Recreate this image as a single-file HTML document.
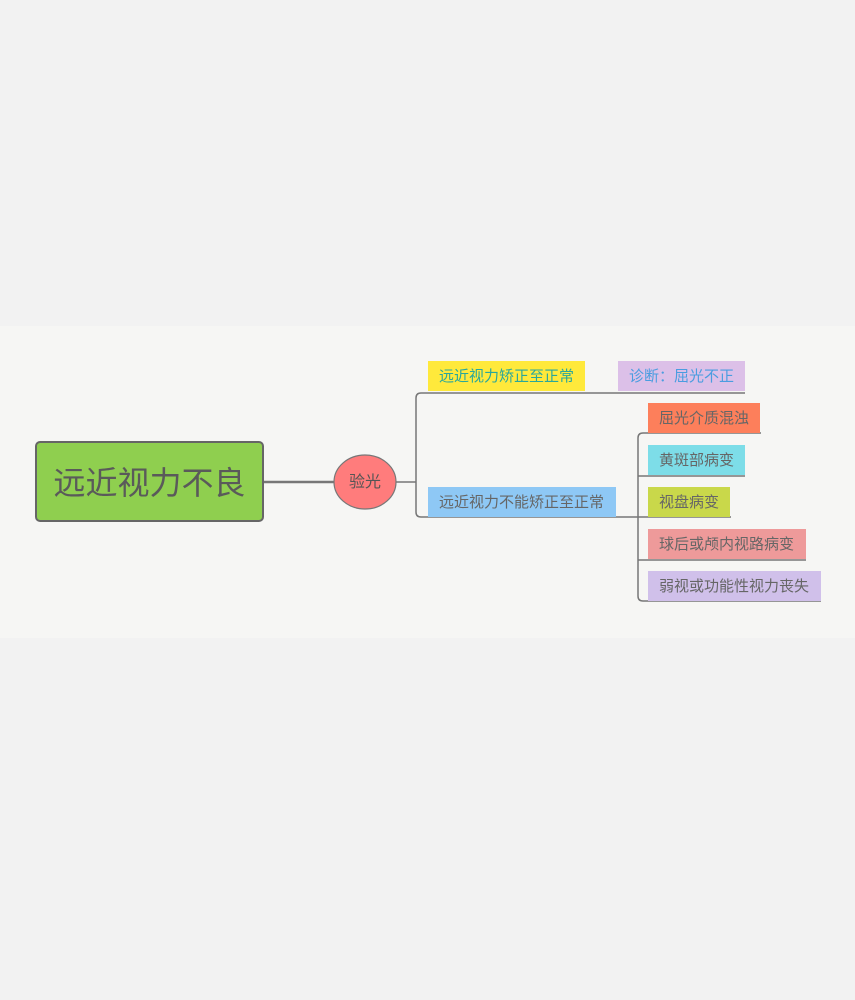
<!DOCTYPE html>
<html><head><meta charset="utf-8"><style>
*{margin:0;padding:0;box-sizing:border-box}
body{width:855px;height:1000px;background:#f2f2f2;position:relative;overflow:hidden;font-family:"Liberation Sans","Noto Sans CJK SC",sans-serif}
.band{position:absolute;left:0;top:326px;width:855px;height:312px;background:#f6f6f4}
.b{position:absolute;height:30px;line-height:31px;font-size:15px;color:#666;padding-left:11px;white-space:nowrap}
svg{position:absolute;left:0;top:0}
</style></head><body>
<div class="band"></div>
<svg width="855" height="1000">
<g stroke="#777" stroke-width="1.5" fill="none">
<line x1="264" y1="482" x2="334" y2="482" stroke-width="2.5"/>
<line x1="396" y1="482" x2="416" y2="482"/>
<path d="M745 393 H421 Q416 393 416 398 V512 Q416 517 421 517 H731"/>
<path d="M761 433 H643 Q638 433 638 438 V596 Q638 601 643 601 H821"/>
<line x1="638" y1="476" x2="745" y2="476"/>
<line x1="638" y1="560" x2="806" y2="560"/>
</g>
<ellipse cx="365" cy="482" rx="31" ry="27" fill="#ff7c7c" stroke="#777" stroke-width="1.2"/>
</svg>
<div style="position:absolute;left:35px;top:441px;width:229px;height:81px;background:#8fcf4f;border:2px solid #666;border-radius:5px;font-size:32px;color:#5a5a5a;line-height:80px;text-align:center">远近视力不良</div>
<div style="position:absolute;left:334px;top:456px;width:62px;height:54px;line-height:54px;text-align:center;font-size:16px;color:#555">验光</div>
<div class="b" style="left:428px;top:361px;width:157px;background:#ffe93b;color:#2aa79b">远近视力矫正至正常</div>
<div class="b" style="left:618px;top:361px;width:127px;background:#dcc0e8;color:#4a9de0">诊断：屈光不正</div>
<div class="b" style="left:428px;top:487px;width:188px;background:#8ec8f5">远近视力不能矫正至正常</div>
<div class="b" style="left:648px;top:403px;width:112px;background:#fd7f5b">屈光介质混浊</div>
<div class="b" style="left:648px;top:445px;width:97px;background:#7ddde8">黄斑部病变</div>
<div class="b" style="left:648px;top:487px;width:82px;background:#c9d84a">视盘病变</div>
<div class="b" style="left:648px;top:529px;width:158px;background:#ee9a9a">球后或颅内视路病变</div>
<div class="b" style="left:648px;top:571px;width:173px;background:#d0c0ea">弱视或功能性视力丧失</div>
</body></html>
